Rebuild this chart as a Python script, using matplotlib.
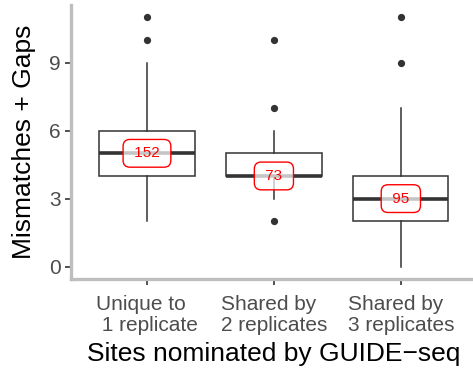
import matplotlib
matplotlib.use("Agg")
import matplotlib.pyplot as plt

plt.rcParams['font.family'] = ['Liberation Sans', 'DejaVu Sans']

categories = ["Unique to\n 1 replicate", "Shared by\n2 replicates", "Shared by\n3 replicates"]
q1 = [4, 4, 2]
medians = [5, 4, 3]
q3 = [6, 5, 4]
whislo = [2, 3, 0]
whishi = [9, 6, 7]
fliers = [[10, 11], [2, 7, 10], [9, 11]]
counts = [152, 73, 95]
yticks = [0, 3, 6, 9]

W, H = 473, 370
fig = plt.figure(figsize=(W / 100, H / 100), dpi=100)
ax = fig.add_axes([70.8 / W, 1 - 279 / H, (477 - 70.8) / W, (279 - 5) / H])

stats = []
for i, c in enumerate(categories):
    stats.append(dict(q1=q1[i], med=medians[i], q3=q3[i], whislo=whislo[i],
                      whishi=whishi[i], fliers=fliers[i], label=c))

dark = '#333333'
positions = list(range(1, len(categories) + 1))
ax.bxp(stats, positions=positions, widths=0.75, showcaps=False, patch_artist=True,
       boxprops=dict(facecolor='white', edgecolor=dark, linewidth=1.1),
       medianprops=dict(color=dark, linewidth=2.6, solid_capstyle='butt'),
       whiskerprops=dict(color=dark, linewidth=1.1),
       flierprops=dict(marker='o', markerfacecolor=dark, markeredgecolor=dark,
                       markersize=4.2, linestyle='none'))

for p, m, n in zip(positions, medians, counts):
    ax.text(p, m, ' ' + str(n) + ' ', ha='center', va='center', color='red', fontsize=11,
            bbox=dict(boxstyle='round,pad=0.45,rounding_size=0.45', facecolor=(1, 1, 1, 0.72),
                      edgecolor='red', linewidth=1.0), zorder=5)

ax.set_xlim(0.4, 3.6)
ax.set_ylim(-0.55, 11.55)
ax.set_yticks(yticks)
ax.set_yticklabels([str(t) for t in yticks])
ax.set_xticks(positions)
ax.set_xticklabels(categories, linespacing=1.14, multialignment='left')

for s in ['top', 'right']:
    ax.spines[s].set_visible(False)
for s in ['left', 'bottom']:
    ax.spines[s].set_color('#BEBEBE')
    ax.spines[s].set_linewidth(2.4)

ax.tick_params(axis='both', colors=dark, length=4.5, width=1.2, labelsize=15,
               labelcolor='#4D4D4D', pad=3)
ax.tick_params(axis='x', pad=7)

ax.set_ylabel('Mismatches + Gaps', fontsize=19, color='black', labelpad=9)
ax.set_xlabel('Sites nominated by GUIDE\u2212seq', fontsize=19, color='black', labelpad=5)

fig.savefig('out.png', dpi=100)
